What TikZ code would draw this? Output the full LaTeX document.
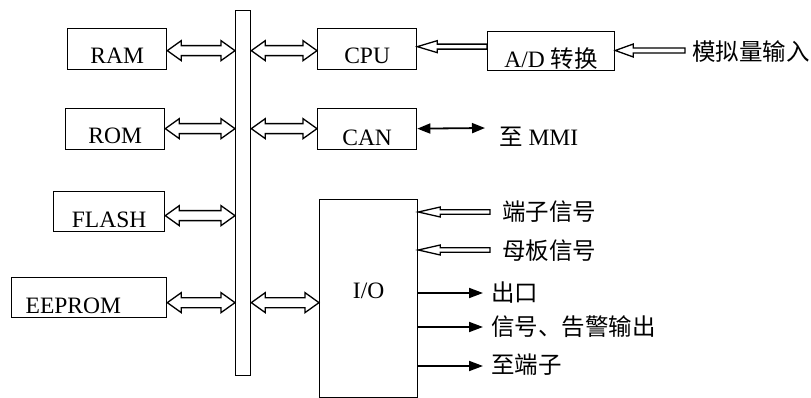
\documentclass[tikz,border=0pt]{standalone}
\usepackage{fontspec}
\setmainfont{Liberation Serif}
\newfontfamily\cjk{Noto Sans CJK SC}
\usetikzlibrary{arrows.meta,calc}
\begin{document}
\begin{tikzpicture}[x=1pt,y=-1pt,
  font=\fontsize{23.5}{28}\selectfont,
  lw/.style={line width=1.3pt},
  bx/.style={draw, lw, inner sep=0pt, anchor=north west, text depth=0pt},
  hl/.store in=\hlen, hh/.store in=\hhw, hs/.store in=\hsw,
  hl=14pt, hh=10pt, hs=5pt,
  dh/.style={lw, to path={let \p1=(\tikztostart), \p2=(\tikztotarget), \n1={ifthenelse(\x2>\x1,1,-1)} in
     (\x1,\y1) -- (\x1+\n1*\hlen,\y1+\hhw) -- (\x1+\n1*\hlen,\y1+\hsw) -- (\x2-\n1*\hlen,\y1+\hsw) -- (\x2-\n1*\hlen,\y1+\hhw) -- (\x2,\y1) -- (\x2-\n1*\hlen,\y1-\hhw) -- (\x2-\n1*\hlen,\y1-\hsw) -- (\x1+\n1*\hlen,\y1-\hsw) -- (\x1+\n1*\hlen,\y1-\hhw) -- cycle}},
  sh/.style={lw, to path={let \p1=(\tikztostart), \p2=(\tikztotarget), \n1={ifthenelse(\x2>\x1,1,-1)} in
     (\x1,\y1+\hsw) -- (\x2-\n1*\hlen,\y1+\hsw) -- (\x2-\n1*\hlen,\y1+\hhw) -- (\x2,\y1) -- (\x2-\n1*\hlen,\y1-\hhw) -- (\x2-\n1*\hlen,\y1-\hsw) -- (\x1,\y1-\hsw) -- cycle}},
  fa/.style={line width=1.8pt, -{Triangle[length=14pt,width=10pt]}},
  fab/.style={line width=1.8pt, {Triangle[length=13pt,width=10pt]}-{Triangle[length=13pt,width=10pt]}},
  lbl/.style={inner sep=0pt, anchor=west}
]
\useasboundingbox (0,0) rectangle (811,398);

% boxes
\node[bx, minimum width=99pt, minimum height=41pt, text height=29pt] (ram) at (67,28) {RAM};
\node[bx, minimum width=99pt, minimum height=41pt, text height=29pt] (rom) at (65,108) {ROM};
\node[bx, minimum width=111pt, minimum height=40pt, text height=32pt] (flash) at (53,191) {FLASH};
\node[bx, minimum width=155pt, minimum height=40pt, text height=32pt, text width=127pt, align=left] (eeprom) at (11,277) {EEPROM};
\node[bx, minimum width=15pt, minimum height=365pt] (bus) at (235,10) {};
\node[bx, minimum width=99pt, minimum height=41pt, text height=29pt] (cpu) at (317,28) {CPU};
\node[bx, minimum width=99pt, minimum height=41pt, text height=33pt] (can) at (317,108) {CAN};
\node[bx, minimum width=127pt, minimum height=39pt, text height=33pt] (ad) at (487,31) {A/D {\cjk 转换}};
\node[bx, minimum width=98pt, minimum height=198pt, text height=0pt] (io) at (319,199) {I/O};

% bus connections
\draw[dh] ([yshift=-1.5pt]ram.east) to (bus.west);
\draw[dh] ([yshift=0.5pt]rom.east) to (bus.west);
\draw[dh] ([yshift=-4pt]flash.east) to (bus.west);
\draw[dh] ([yshift=-5pt]eeprom.east) to (bus.west);
\draw[dh] ([yshift=-1.5pt]cpu.west) to (bus.east);
\draw[dh] ([yshift=0.5pt]can.west) to (bus.east);
\draw[dh] ([yshift=-4pt]io.west) to (bus.east);

% hollow single arrows
\draw[sh, hl=20pt, hh=6pt, hs=2.5pt] ([yshift=4.5pt]ad.west) to (cpu.east);
\coordinate (ain) at (685,50.5);
\draw[sh, hl=18pt, hh=6.5pt, hs=2.5pt] (ain) to (ad.east);
\coordinate (t1) at (490,212);
\coordinate (t2) at (490,250);
\draw[sh, hl=22pt, hh=5pt, hs=2.2pt] (t1) to (io.east);
\draw[sh, hl=22pt, hh=5pt, hs=2.2pt] (t2) to (io.east);

% filled arrows
\coordinate (mmi) at (485,128);
\draw[fab] ([yshift=0.5pt]can.east) -- (mmi);
\coordinate (o1) at (483,293);
\coordinate (o2) at (483,327);
\coordinate (o3) at (483,366);
\draw[fa] (io.east |- o1) -- (o1);
\draw[fa] (io.east |- o2) -- (o2);
\draw[fa] (io.east |- o3) -- (o3);

% labels
\node[lbl] (lain) at (692,52) {\cjk 模拟量输入};
\node[inner sep=0pt, anchor=base west] (lmmi) at (499,146) {{\cjk 至} MMI};
\node[lbl] (lt1) at (502,212) {\cjk 端子信号};
\node[lbl] (lt2) at (502,251) {\cjk 母板信号};
\node[lbl] (lo1) at (491,293) {\cjk 出口};
\node[lbl] (lo2) at (491,327) {\cjk 信号、告警输出};
\node[lbl] (lo3) at (491,365) {\cjk 至端子};
\end{tikzpicture}
\end{document}
